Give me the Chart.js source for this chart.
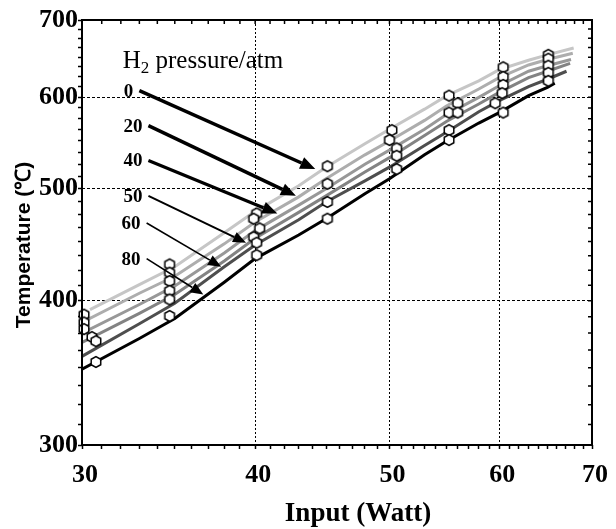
<!DOCTYPE html>
<html>
<head>
<meta charset="utf-8">
<script src="https://cdn.jsdelivr.net/npm/chart.js@4.4.0/dist/chart.umd.min.js"></script>
<style>
  html, body { margin: 0; padding: 0; background: #fff; }
  #wrap { width: 616px; height: 529px; }
</style>
</head>
<body>
<div id="wrap"><canvas id="chart"></canvas></div>
<script>
// axis labels
const powerTicks = [30, 40, 50, 60, 70];
const tempTicks = [300, 400, 500, 600, 700];

// simulated curves, one per H2 pressure (atm)
const pressures = ["0", "20", "40", "50", "60", "80"];
const simPower = [30, 33, 35, 38, 40, 43, 45, 48, 50, 53, 55, 58, 60, 63, 65];
const simTemp0  = [393, 413, 428, 458, 478, 503, 522, 547, 563, 586, 602, 620, 634, 646, 653];
const simTemp20 = [383, 406, 420, 448, 468, 492, 510, 535, 550, 573, 590, 610, 624, 640, 647];
const simTemp40 = [375, 397, 412, 440, 460, 484, 500, 525, 540, 563, 580, 600, 614, 632, 639];
const simTemp50 = [368, 390, 405, 433, 453, 477, 493, 517, 532, 556, 572, 592, 606, 624, 632];
const simTemp60 = [358, 382, 398, 428, 447, 470, 487, 508, 522, 545, 560, 583, 596, 613, 622];
const simTemp80 = [349, 371, 386, 415, 435, 456, 471, 495, 510, 535, 550, 570, 582, 602, 612];
const simStartPower = [30.4, 30, 30, 30, 30, 30];
const simEndPower = [67.9, 67.8, 67.6, 67.5, 67.1, 65.8];
const simEndTemp = [662, 655, 647, 642, 632, 617];

// measured points
const measPower = [30.1, 30.1, 30.1, 30.5, 30.7, 30.7,
  34.7, 34.7, 34.7, 34.7, 34.7, 34.7,
  40.1, 39.9, 40.3, 39.9, 40.1, 40.1,
  45.1, 45.1, 45.1, 45.1,
  50.2, 50.0, 50.6, 50.6, 50.6,
  55.2, 56.0, 55.2, 56.0, 55.2, 55.2,
  60.4, 60.4, 60.4, 60.3, 59.6, 60.4,
  65.1, 65.1, 65.1, 65.1, 65.1];
const measTemp = [389, 383, 378, 372, 369, 354,
  430, 423, 416, 408, 401, 388,
  476, 471, 462, 454, 449, 438,
  523, 505, 487, 471,
  562, 551, 542, 534, 520,
  602, 593, 582, 582, 562, 551,
  637, 625, 615, 605, 593, 582,
  653, 648, 639, 630, 620];

// arrows from the pressure labels to the curves
const arrowFromPower = [33.0, 33.5, 33.5, 33.5, 33.4, 33.4];
const arrowFromTemp = [608, 567, 529, 493, 467, 435];
const arrowToPower = [44.2, 42.8, 41.5, 39.4, 37.8, 36.7];
const arrowToTemp = [520, 493, 476, 449, 428, 405];

const simTemps = [simTemp0, simTemp20, simTemp40, simTemp50, simTemp60, simTemp80];
const lineColors = ["#c6c6c6", "#adadad", "#989898", "#838383", "#4e4e4e", "#000000"];
const arrowWidths = [3.5, 3.5, 3.2, 2, 1.6, 1.6];

const xMinor = [];
for (let v = 30; v <= 70; v += 1) xMinor.push(v);
const yMinor = [];
for (let v = 300; v <= 700; v += 12.5) yMinor.push(v);

function hexagon() {
  const c = document.createElement("canvas");
  c.width = 14; c.height = 14;
  const g = c.getContext("2d");
  g.beginPath();
  for (let i = 0; i < 6; i++) {
    const a = Math.PI / 6 + i * Math.PI / 3;
    const px = 7 + 5.5 * Math.cos(a), py = 7 + 5.5 * Math.sin(a);
    if (i === 0) g.moveTo(px, py); else g.lineTo(px, py);
  }
  g.closePath();
  g.fillStyle = "#fff";
  g.fill();
  g.lineWidth = 1.5;
  g.strokeStyle = "#000";
  g.stroke();
  return c;
}

const datasets = [{
  data: measPower.map((p, i) => ({ x: p, y: measTemp[i] })),
  showLine: false,
  pointStyle: hexagon(),
  pointRadius: 7,
  order: 0,
  clip: false
}];
pressures.forEach((p, k) => {
  const pts = simPower.map((x, i) => ({ x: x, y: simTemps[k][i] }));
  pts[0].x = simStartPower[k];
  pts.push({ x: simEndPower[k], y: simEndTemp[k] });
  datasets.push({
    label: p + " atm",
    data: pts,
    showLine: true,
    borderColor: lineColors[k],
    borderWidth: 3,
    pointRadius: 0,
    tension: 0,
    order: 1 + k
  });
});

function arrow(ctx, x0, y0, x1, y1, w, head) {
  const ang = Math.atan2(y1 - y0, x1 - x0);
  const hw = head * 0.42;
  const bx = x1 - head * Math.cos(ang), by = y1 - head * Math.sin(ang);
  ctx.lineWidth = w;
  ctx.beginPath(); ctx.moveTo(x0, y0); ctx.lineTo(bx, by); ctx.stroke();
  ctx.beginPath();
  ctx.moveTo(x1, y1);
  ctx.lineTo(bx + hw * Math.sin(ang), by - hw * Math.cos(ang));
  ctx.lineTo(bx - hw * Math.sin(ang), by + hw * Math.cos(ang));
  ctx.closePath();
  ctx.fill();
}

const decor = {
  id: "decor",
  afterDraw(chart) {
    const { ctx, chartArea: a, scales: { x, y } } = chart;
    ctx.save();
    ctx.strokeStyle = "#000";
    ctx.fillStyle = "#000";
    ctx.lineWidth = 2;
    ctx.strokeRect(a.left, a.top, a.right - a.left, a.bottom - a.top);
    // inner ticks on top and right edges
    ctx.lineWidth = 1.5;
    ctx.beginPath();
    xMinor.forEach(v => {
      const px = x.getPixelForValue(v);
      ctx.moveTo(px, a.top); ctx.lineTo(px, a.top + 4);
    });
    yMinor.forEach(v => {
      const py = y.getPixelForValue(v);
      ctx.moveTo(a.right, py); ctx.lineTo(a.right - 4, py);
    });
    ctx.stroke();

    // pressure arrows + labels
    ctx.font = "bold 19px 'Liberation Serif'";
    ctx.textAlign = "right";
    ctx.textBaseline = "middle";
    pressures.forEach((p, i) => {
      const x0 = x.getPixelForValue(arrowFromPower[i]);
      const y0 = y.getPixelForValue(arrowFromTemp[i]);
      const x1 = x.getPixelForValue(arrowToPower[i]);
      const y1 = y.getPixelForValue(arrowToTemp[i]);
      arrow(ctx, x0, y0, x1, y1, arrowWidths[i], i < 3 ? 15 : 13);
      ctx.fillText(p, x0 - 6, y0 + 1);
    });

    // legend title H2 pressure/atm
    const tx = x.getPixelForValue(32.1), ty = y.getPixelForValue(636);
    ctx.textAlign = "left";
    ctx.textBaseline = "alphabetic";
    ctx.font = "25px 'Liberation Serif'";
    ctx.fillText("H", tx, ty);
    const hw = ctx.measureText("H").width;
    ctx.font = "17px 'Liberation Serif'";
    ctx.fillText("2", tx + hw, ty + 5);
    const sw = ctx.measureText("2").width;
    ctx.font = "25px 'Liberation Serif'";
    ctx.fillText(" pressure/atm", tx + hw + sw, ty);

    // axis titles
    ctx.textAlign = "center";
    ctx.textBaseline = "middle";
    ctx.font = "bold 27px 'Liberation Serif'";
    ctx.fillText("Input (Watt)", 358, 514);
    ctx.translate(24, 245);
    ctx.rotate(-Math.PI / 2);
    ctx.font = "bold 21px 'Liberation Sans'";
    ctx.fillText("Temperature (℃)", 0, 0);
    ctx.restore();
  }
};

const tickFont = { family: "'Liberation Serif'", size: 26, weight: "bold" };

new Chart(document.getElementById("chart"), {
  type: "scatter",
  data: { datasets: datasets },
  options: {
    responsive: true,
    maintainAspectRatio: false,
    animation: false,
    layout: { padding: { top: 20, right: 18, left: 0, bottom: 0 } },
    plugins: { legend: { display: false }, tooltip: { enabled: false } },
    scales: {
      x: {
        type: "logarithmic",
        min: 30, max: 70,
        afterBuildTicks: s => { s.ticks = xMinor.map(v => ({ value: v })); },
        afterFit: s => { s.height = 84; },
        ticks: {
          autoSkip: false, maxRotation: 0, padding: 11, labelOffset: 3,
          color: "#000", font: tickFont,
          callback: v => powerTicks.includes(v) ? String(v) : ""
        },
        grid: {
          color: c => c.tick && [40, 50, 60].includes(c.tick.value) ? "#000" : "rgba(0,0,0,0)",
          tickColor: "#000", tickLength: 4, tickWidth: 1.5, lineWidth: 1
        },
        border: { display: false, dash: [2, 2] },
        title: { display: false }
      },
      y: {
        type: "logarithmic",
        min: 300, max: 700,
        afterBuildTicks: s => { s.ticks = yMinor.map(v => ({ value: v })); },
        afterFit: s => { s.width = 82; },
        ticks: {
          autoSkip: false, padding: 0,
          color: "#000", font: tickFont,
          callback: v => tempTicks.includes(v) ? String(v) : ""
        },
        grid: {
          color: c => c.tick && [400, 500, 600].includes(c.tick.value) ? "#000" : "rgba(0,0,0,0)",
          tickColor: "#000", tickLength: 4, tickWidth: 1.5, lineWidth: 1
        },
        border: { display: false, dash: [3, 2] },
        title: { display: false }
      }
    }
  },
  plugins: [decor]
});
</script>
</body>
</html>
